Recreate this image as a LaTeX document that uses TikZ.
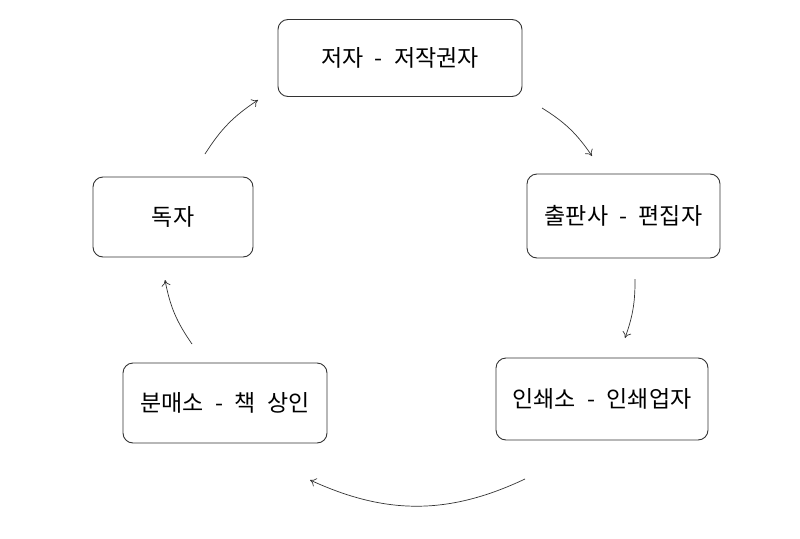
\documentclass[tikz,border=0pt]{standalone}
\usepackage{fontspec}
\newfontfamily\kofont[WordSpace=2.2]{Noto Sans CJK KR}
\usetikzlibrary{arrows.meta}
\tikzset{
  rbox/.style={draw=black!80, rounded corners=10pt, line width=0.9pt, align=center, inner sep=3pt, font=\kofont\fontsize{23}{27}\selectfont},
  carrow/.style={-{To[length=6pt,width=9pt]}, line width=0.7pt, draw=black!80}
}
\begin{document}
\begin{tikzpicture}[x=1pt,y=1pt]
\useasboundingbox (0,0) rectangle (800,-538);
\node[rbox, minimum width=244pt, minimum height=77pt] (author) at (400,-58) {저자 - 저작권자};
\node[rbox, minimum width=193pt, minimum height=84pt] (publisher) at (623.5,-216) {출판사 - 편집자};
\node[rbox, minimum width=212pt, minimum height=82pt] (printer) at (602,-399) {인쇄소 - 인쇄업자};
\node[rbox, minimum width=204pt, minimum height=80pt] (seller) at (225,-403) {분매소 - 책 상인};
\node[rbox, minimum width=160pt, minimum height=80pt] (reader) at (173,-217) {독자};

\coordinate (a1) at (542,-108);
\coordinate (b1) at (592,-156);
\coordinate (a2) at (635,-279);
\coordinate (b2) at (625,-338);
\coordinate (a3) at (525,-479);
\coordinate (b3) at (310,-480);
\coordinate (a4) at (192,-344);
\coordinate (b4) at (165,-280);
\coordinate (a5) at (205,-154);
\coordinate (b5) at (258,-100);

\draw[carrow] (a1) to[bend left=12] (b1);
\draw[carrow] (a2) to[bend left=10] (b2);
\draw[carrow] (a3) to[bend left=25] (b3);
\draw[carrow] (a4) to[bend left=12] (b4);
\draw[carrow] (a5) to[bend left=12] (b5);
\end{tikzpicture}
\end{document}
